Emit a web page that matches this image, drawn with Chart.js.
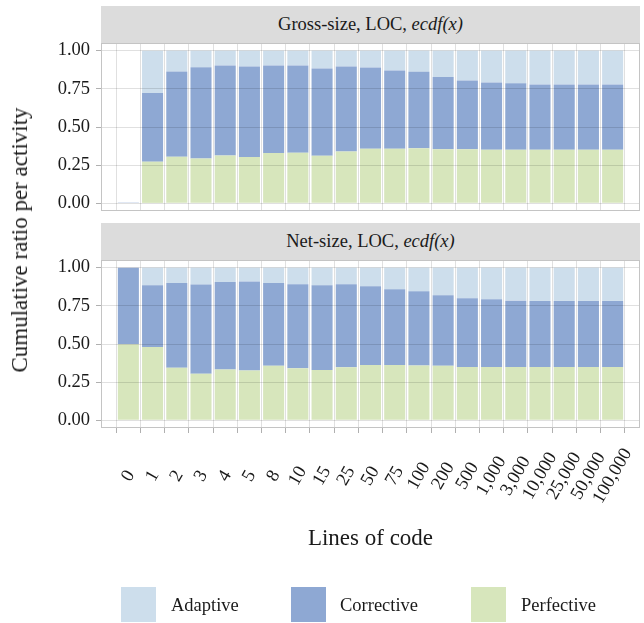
<!DOCTYPE html>
<html>
<head>
<meta charset="utf-8">
<script src="https://cdn.jsdelivr.net/npm/chart.js@4/dist/chart.umd.min.js"></script>
<style>
  html, body { margin: 0; padding: 0; background: #fff; }
  #fig { position: relative; width: 644px; height: 623px; overflow: hidden;
         font-family: "Liberation Serif", "Times New Roman", serif; color: #1a1a1a; }
  canvas { position: absolute; left: 0; }
  .strip { position: absolute; left: 101px; width: 539px; height: 37px; background: #dcdcdc;
           text-align: center; line-height: 37px; font-size: 18.5px; color: #1a1a1a; }
  .strip i { font-style: italic; }
  .ytitle { position: absolute; left: 20px; top: 240px; font-size: 23px; white-space: nowrap;
            transform: translate(-50%, -50%) rotate(-90deg); }
  .xtitle { position: absolute; left: 370.5px; top: 538px; font-size: 23px; white-space: nowrap;
            transform: translate(-50%, -50%); }
  .key { position: absolute; top: 587px; width: 35px; height: 35px; }
  .keylab { position: absolute; top: 605px; font-size: 18.5px; transform: translateY(-50%); white-space: nowrap; }
</style>
</head>
<body>
<div id="fig">
  <div class="strip" style="top:6px">Gross-size, LOC, <i>ecdf(x)</i></div>
  <div class="strip" style="top:223px">Net-size, LOC, <i>ecdf(x)</i></div>
  <canvas id="gross" width="644" height="230" style="top:0"></canvas>
  <canvas id="net" width="644" height="406" style="top:217px"></canvas>
  <div class="ytitle">Cumulative ratio per activity</div>
  <div class="xtitle">Lines of code</div>
  <div class="key" style="left:121px;background:#cddeec"></div>
  <div class="keylab" style="left:171px">Adaptive</div>
  <div class="key" style="left:291px;background:#8ea8d3"></div>
  <div class="keylab" style="left:340px">Corrective</div>
  <div class="key" style="left:471px;background:#d7e6bc"></div>
  <div class="keylab" style="left:521px">Perfective</div>
</div>
<script>
// Size thresholds (lines of code) on the x axis
const locLabels = ['0', '1', '2', '3', '4', '5', '8', '10', '15', '25', '50', '75', '100',
  '200', '500', '1,000', '3,000', '10,000', '25,000', '50,000', '100,000'];

// y-axis tick values and labels
const yTicks = [0, 0.125, 0.25, 0.375, 0.5, 0.625, 0.75, 0.875, 1];
const yTickLabels = { 0: '0.00', 0.25: '0.25', 0.5: '0.50', 0.75: '0.75', 1: '1.00' };

// Gross-size: share of each maintenance activity per size bucket
const grossPerfective = [0, 0.273, 0.305, 0.294, 0.314, 0.303, 0.329, 0.331, 0.312, 0.340, 0.357,
  0.357, 0.361, 0.355, 0.355, 0.351, 0.351, 0.351, 0.351, 0.351, 0.351];
const grossCorrective = [0.005, 0.450, 0.559, 0.598, 0.589, 0.593, 0.574, 0.572, 0.571, 0.556, 0.533,
  0.513, 0.500, 0.472, 0.450, 0.441, 0.435, 0.428, 0.428, 0.428, 0.428];
const grossAdaptive = [0, 0.277, 0.136, 0.108, 0.097, 0.104, 0.097, 0.097, 0.117, 0.104, 0.110,
  0.130, 0.139, 0.173, 0.195, 0.208, 0.214, 0.221, 0.221, 0.221, 0.221];

// Net-size: share of each maintenance activity per size bucket
const netPerfective = [0.499, 0.481, 0.344, 0.305, 0.333, 0.327, 0.357, 0.342, 0.329, 0.348, 0.363,
  0.363, 0.359, 0.357, 0.350, 0.350, 0.350, 0.350, 0.350, 0.350, 0.350];
const netCorrective = [0.501, 0.403, 0.555, 0.584, 0.573, 0.583, 0.542, 0.549, 0.555, 0.543, 0.515,
  0.495, 0.486, 0.462, 0.449, 0.443, 0.434, 0.432, 0.432, 0.432, 0.432];
const netAdaptive = [0, 0.116, 0.101, 0.111, 0.094, 0.090, 0.101, 0.109, 0.116, 0.109, 0.122,
  0.142, 0.155, 0.181, 0.201, 0.207, 0.216, 0.218, 0.218, 0.218, 0.218];

const COLORS = { Perfective: '#d7e6bc', Corrective: '#8ea8d3', Adaptive: '#cddeec' };
const GRID = 'rgba(0,0,0,0.12)';
const TICK = '#b0b0b0';
const FONT = '"Liberation Serif", "Times New Roman", serif';

const toPoints = arr => arr.map((v, i) => ({ x: i, y: v }));

// Light panel frame around the plotting area
const panelFrame = {
  id: 'panelFrame',
  afterDraw(chart) {
    const a = chart.chartArea, ctx = chart.ctx;
    ctx.save();
    ctx.strokeStyle = '#c4c4c4';
    ctx.lineWidth = 1;
    ctx.strokeRect(Math.round(a.left) + 0.5, Math.round(a.top) + 0.5,
      Math.round(a.right - a.left) - 1, Math.round(a.bottom - a.top) - 1);
    ctx.restore();
  }
};

// Rotated category labels centred under each tick
const rotatedLabels = {
  id: 'rotatedLabels',
  afterDraw(chart) {
    const xs = chart.scales.x, ctx = chart.ctx;
    const yc = chart.chartArea.bottom + 48;
    ctx.save();
    ctx.fillStyle = '#1a1a1a';
    ctx.font = '18.5px ' + FONT;
    ctx.textAlign = 'center';
    ctx.textBaseline = 'middle';
    locLabels.forEach((lab, i) => {
      ctx.save();
      ctx.translate(xs.getPixelForValue(i), yc);
      ctx.rotate(-Math.PI / 3);
      ctx.fillText(lab, 0, 0);
      ctx.restore();
    });
    ctx.restore();
  }
};

function makePanel(canvasId, perf, corr, adap, isBottom) {
  return new Chart(document.getElementById(canvasId), {
    type: 'bar',
    data: {
      datasets: [
        { label: 'Perfective', data: toPoints(perf), backgroundColor: COLORS.Perfective },
        { label: 'Corrective', data: toPoints(corr), backgroundColor: COLORS.Corrective },
        { label: 'Adaptive', data: toPoints(adap), backgroundColor: COLORS.Adaptive }
      ]
    },
    options: {
      responsive: false,
      animation: false,
      devicePixelRatio: 1,
      layout: { padding: { top: 43, bottom: isBottom ? 190 : 19, left: 0, right: 4 } },
      datasets: { bar: { categoryPercentage: 1, barPercentage: 0.87, borderWidth: 0 } },
      plugins: { legend: { display: false }, tooltip: { enabled: false } },
      scales: {
        x: {
          type: 'linear',
          stacked: true,
          min: -0.6,
          max: 20.6,
          afterBuildTicks: s => { s.ticks = locLabels.map((_, i) => ({ value: i })); },
          afterFit: s => { s.height = isBottom ? 5 : 0; },
          ticks: { display: false },
          border: { display: false },
          grid: { z: 1, color: GRID, lineWidth: 1, drawTicks: isBottom, tickLength: 5, tickColor: TICK }
        },
        y: {
          stacked: true,
          min: -0.05,
          max: 1.05,
          afterBuildTicks: s => { s.ticks = yTicks.map(v => ({ value: v })); },
          afterFit: s => { s.width = 101; },
          border: { display: false },
          grid: {
            z: 1, color: GRID, lineWidth: 1, tickLength: 5,
            tickColor: c => (c.tick && yTickLabels[c.tick.value] !== undefined) ? TICK : 'rgba(0,0,0,0)'
          },
          ticks: {
            padding: 6,
            color: '#1a1a1a',
            font: { family: FONT, size: 18.5 },
            callback: v => (yTickLabels[v] !== undefined ? yTickLabels[v] : '')
          }
        }
      }
    },
    plugins: isBottom ? [panelFrame, rotatedLabels] : [panelFrame]
  });
}

makePanel('gross', grossPerfective, grossCorrective, grossAdaptive, false);
makePanel('net', netPerfective, netCorrective, netAdaptive, true);
</script>
</body>
</html>
